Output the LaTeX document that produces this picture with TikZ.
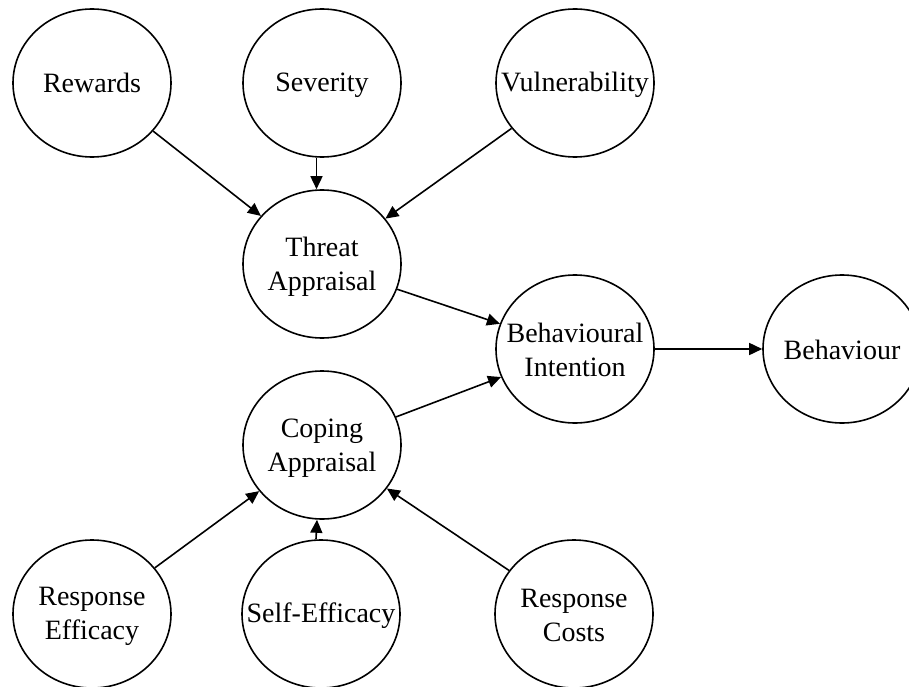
\documentclass[tikz,border=0pt]{standalone}
\usepackage{fontspec}
\setmainfont{Liberation Serif}
\usetikzlibrary{shapes.geometric,arrows.meta}
% fixed line height so every label sits at the same baseline offset
\newcommand{\lineframe}{\vrule width0pt height24pt depth4pt}
\begin{document}
\begin{tikzpicture}[x=1pt,y=-1pt,
  construct/.style={ellipse,draw,line width=1.6pt,minimum width=158pt,minimum height=148pt,
    inner sep=0pt,
    label={[align=center,font=\fontsize{28}{34}\selectfont,inner sep=0pt]center:#1}},
  arr/.style={line width=1.6pt,-{Triangle[length=13pt,width=12pt]}}]
\useasboundingbox (0,0) rectangle (909,687);
% top row: antecedents of threat appraisal
\node[construct={\lineframe Rewards}] (rew) at (92,83) {};
\node[construct={\lineframe Severity}] (sev) at (322,83) {};
\node[construct={\lineframe Vulnerability}] (vul) at (575,83) {};
% appraisals and outcome
\node[construct={\lineframe Threat\\\lineframe Appraisal}] (thr) at (322,264) {};
\node[construct={\lineframe Coping\\\lineframe Appraisal}] (cop) at (322,445) {};
\node[construct={\lineframe Behavioural\\\lineframe Intention}] (bint) at (575,349) {};
\node[construct={\lineframe Behaviour}] (beh) at (842,349) {};
% bottom row: antecedents of coping appraisal
\node[construct={\lineframe Response\\\lineframe Efficacy}] (ref) at (92,614) {};
\node[construct={\lineframe Self-Efficacy}] (sef) at (321,614) {};
\node[construct={\lineframe Response\\\lineframe Costs}] (rco) at (574,614) {};
% paths
\draw[arr] (rew) -- (thr);
\draw[arr] ([xshift=-5.5pt]sev.south) -- ([xshift=-5.5pt]thr.north);
\draw[arr] (vul) -- (thr);
\draw[arr] (thr) -- (bint);
\draw[arr] (cop) -- (bint);
\draw[arr] (bint) -- (beh);
\draw[arr] (ref) -- (cop);
\draw[arr] ([xshift=-5pt]sef.north) -- ([xshift=-5pt]cop.south);
\draw[arr] (rco) -- (cop);
\end{tikzpicture}
\end{document}
